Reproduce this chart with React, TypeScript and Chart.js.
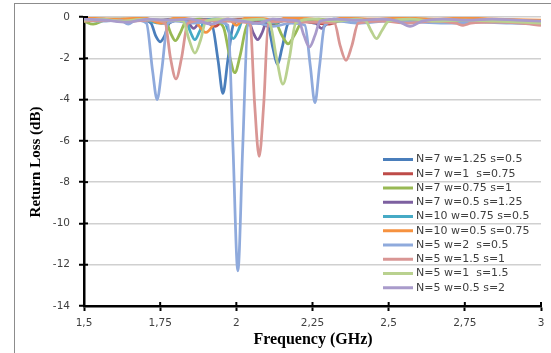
import React, { useEffect, useRef } from "react";
import { Chart, registerables } from "chart.js";
Chart.register(...registerables);

const seriesNames = [
  "N=7 w=1.25 s=0.5",
  "N=7 w=1  s=0.75",
  "N=7 w=0.75 s=1",
  "N=7 w=0.5 s=1.25",
  "N=10 w=0.75 s=0.5",
  "N=10 w=0.5 s=0.75",
  "N=5 w=2  s=0.5",
  "N=5 w=1.5 s=1",
  "N=5 w=1  s=1.5",
  "N=5 w=0.5 s=2",
];
const seriesColors = [
  "#4A7EBB", "#BE4B48", "#98B954", "#7D60A0", "#46AAC5",
  "#F69240", "#8FAADC", "#D99694", "#B9D18F", "#A99BCB",
];

const xTickValues = [1.5, 1.75, 2, 2.25, 2.5, 2.75, 3];
const xTickLabels = ["1,5", "1,75", "2", "2,25", "2,5", "2,75", "3"];
const yTickValues = [-14, -12, -10, -8, -6, -4, -2, 0];
const yTickLabels = ["-14", "-12", "-10", "-8", "-6", "-4", "-2", "0"];

// N=7 w=1.25 s=0.5
const f1 = [1.5, 1.56, 1.62, 1.68, 1.72, 1.735, 1.75, 1.765, 1.78, 1.83, 1.88, 1.92, 1.94, 1.956, 1.972, 1.99, 2.03, 2.07, 2.105, 2.12, 2.135, 2.15, 2.17, 2.2, 2.26, 2.32, 2.4, 2.5, 2.6, 2.7, 2.8, 2.9, 3.0];
const v1 = [-0.15, -0.1, -0.2, -0.1, -0.3, -0.9, -1.2, -0.9, -0.3, -0.1, -0.25, -0.4, -2.1, -3.7, -2.1, -0.4, -0.1, -0.3, -0.5, -1.5, -2.3, -1.5, -0.3, -0.1, -0.3, -0.1, -0.15, -0.1, -0.2, -0.15, -0.2, -0.25, -0.3];
// N=7 w=1 s=0.75
const f2 = [1.5, 1.6, 1.7, 1.76, 1.82, 1.9, 1.93, 1.96, 2.02, 2.08, 2.12, 2.16, 2.22, 2.3, 2.36, 2.45, 2.55, 2.65, 2.75, 2.85, 3.0];
const v2 = [-0.1, -0.15, -0.1, -0.3, -0.1, -0.2, -0.45, -0.15, -0.1, -0.2, -0.4, -0.1, -0.2, -0.35, -0.1, -0.15, -0.1, -0.2, -0.15, -0.2, -0.25];
// N=7 w=0.75 s=1
const f3 = [1.5, 1.53, 1.57, 1.63, 1.7, 1.767, 1.785, 1.8, 1.815, 1.835, 1.88, 1.93, 1.958, 1.978, 1.995, 2.012, 2.035, 2.08, 2.13, 2.15, 2.17, 2.19, 2.215, 2.27, 2.33, 2.4, 2.5, 2.6, 2.7, 2.8, 2.9, 3.0];
const v3 = [-0.2, -0.35, -0.15, -0.1, -0.15, -0.2, -0.8, -1.15, -0.8, -0.2, -0.1, -0.2, -0.5, -1.9, -2.7, -1.9, -0.4, -0.1, -0.3, -0.9, -1.3, -0.9, -0.25, -0.1, -0.2, -0.1, -0.15, -0.1, -0.2, -0.15, -0.2, -0.25];
// N=7 w=0.5 s=1.25
const f4 = [1.5, 1.58, 1.65, 1.72, 1.79, 1.835, 1.86, 1.885, 1.94, 2.0, 2.04, 2.055, 2.07, 2.085, 2.1, 2.16, 2.22, 2.255, 2.28, 2.305, 2.36, 2.45, 2.55, 2.65, 2.75, 2.85, 3.0];
const v4 = [-0.1, -0.15, -0.1, -0.2, -0.1, -0.15, -0.55, -0.15, -0.1, -0.15, -0.2, -0.75, -1.1, -0.75, -0.2, -0.1, -0.15, -0.2, -0.55, -0.2, -0.1, -0.15, -0.1, -0.15, -0.1, -0.15, -0.2];
// N=10 w=0.75 s=0.5
const f5 = [1.5, 1.6, 1.7, 1.75, 1.8, 1.835, 1.85, 1.864, 1.878, 1.895, 1.93, 1.96, 1.975, 1.99, 2.005, 2.02, 2.07, 2.12, 2.18, 2.28, 2.38, 2.5, 2.62, 2.75, 2.9, 3.0];
const v5 = [-0.15, -0.1, -0.15, -0.3, -0.1, -0.2, -0.75, -1.1, -0.75, -0.2, -0.1, -0.2, -0.7, -1.05, -0.7, -0.2, -0.1, -0.3, -0.1, -0.2, -0.1, -0.15, -0.1, -0.2, -0.15, -0.25];
// N=10 w=0.5 s=0.75
const f6 = [1.5, 1.6, 1.7, 1.75, 1.8, 1.86, 1.9, 1.94, 1.975, 2.0, 2.03, 2.1, 2.13, 2.16, 2.25, 2.3, 2.35, 2.45, 2.55, 2.65, 2.75, 2.85, 3.0];
const v6 = [-0.05, -0.1, -0.05, -0.3, -0.05, -0.15, -0.75, -0.15, -0.1, -0.4, -0.05, -0.1, -0.25, -0.05, -0.1, -0.2, -0.05, -0.1, -0.05, -0.1, -0.05, -0.1, -0.15];
// N=5 w=2 s=0.5
const f7 = [1.5, 1.56, 1.62, 1.645, 1.67, 1.705, 1.725, 1.74, 1.755, 1.775, 1.8, 1.86, 1.92, 1.973, 1.989, 2.005, 2.021, 2.038, 2.07, 2.12, 2.18, 2.225, 2.243, 2.258, 2.273, 2.29, 2.33, 2.4, 2.5, 2.6, 2.7, 2.8, 2.9, 3.0];
const v7 = [-0.15, -0.2, -0.15, -0.35, -0.15, -0.3, -2.6, -4.0, -2.6, -0.3, -0.2, -0.3, -0.2, -0.4, -6.3, -12.3, -6.3, -0.4, -0.3, -0.45, -0.3, -0.4, -2.4, -4.15, -2.4, -0.4, -0.2, -0.3, -0.2, -0.25, -0.3, -0.25, -0.3, -0.35];
// N=5 w=1.5 s=1
const f8 = [1.5, 1.58, 1.65, 1.72, 1.766, 1.784, 1.802, 1.82, 1.841, 1.9, 1.96, 2.045, 2.06, 2.075, 2.09, 2.105, 2.16, 2.22, 2.322, 2.341, 2.36, 2.379, 2.4, 2.48, 2.56, 2.65, 2.72, 2.744, 2.77, 2.85, 2.93, 3.0];
const v8 = [-0.2, -0.15, -0.2, -0.15, -0.3, -2.0, -3.0, -2.0, -0.3, -0.15, -0.2, -0.3, -4.2, -6.75, -4.2, -0.3, -0.2, -0.25, -0.3, -1.4, -2.1, -1.4, -0.3, -0.2, -0.3, -0.2, -0.3, -0.4, -0.3, -0.25, -0.3, -0.4];
// N=5 w=1 s=1.5
const f9 = [1.5, 1.56, 1.62, 1.7, 1.78, 1.825, 1.845, 1.864, 1.883, 1.9, 1.95, 2.02, 2.08, 2.11, 2.132, 2.153, 2.174, 2.195, 2.25, 2.33, 2.39, 2.425, 2.442, 2.46, 2.478, 2.5, 2.57, 2.65, 2.75, 2.85, 3.0];
const v9 = [-0.15, -0.1, -0.2, -0.1, -0.15, -0.2, -1.1, -1.75, -1.1, -0.2, -0.1, -0.15, -0.1, -0.3, -2.0, -3.25, -2.0, -0.3, -0.1, -0.2, -0.1, -0.2, -0.65, -1.05, -0.65, -0.2, -0.1, -0.2, -0.15, -0.2, -0.3];
// N=5 w=0.5 s=2
const f10 = [1.5, 1.57, 1.64, 1.71, 1.78, 1.85, 1.92, 1.97, 2.02, 2.07, 2.12, 2.17, 2.205, 2.222, 2.24, 2.258, 2.275, 2.33, 2.4, 2.48, 2.53, 2.57, 2.61, 2.68, 2.76, 2.84, 2.92, 3.0];
const v10 = [-0.1, -0.15, -0.25, -0.1, -0.15, -0.1, -0.35, -0.1, -0.2, -0.3, -0.1, -0.15, -0.2, -0.9, -1.45, -0.9, -0.2, -0.1, -0.15, -0.1, -0.2, -0.45, -0.2, -0.1, -0.15, -0.1, -0.15, -0.2];

const freqs = [f1, f2, f3, f4, f5, f6, f7, f8, f9, f10];
const values = [v1, v2, v3, v4, v5, v6, v7, v8, v9, v10];

const decorPlugin = {
  id: "decor",
  afterDraw(chart: any) {
    const { ctx, chartArea: ca, scales } = chart;
    ctx.save();
    ctx.strokeStyle = "#000";
    ctx.lineWidth = 2;
    yTickValues.forEach((v) => {
      const y = scales.y.getPixelForValue(v);
      ctx.beginPath();
      ctx.moveTo(ca.left, y);
      ctx.lineTo(ca.left + 4, y);
      ctx.stroke();
    });
    xTickValues.forEach((v) => {
      const x = scales.x.getPixelForValue(v);
      ctx.beginPath();
      ctx.moveTo(x, ca.bottom);
      ctx.lineTo(x, ca.bottom - 4);
      ctx.stroke();
    });
    ctx.fillStyle = "#000";
    ctx.textAlign = "center";
    ctx.textBaseline = "middle";
    ctx.font = 'bold 16px "Liberation Serif"';
    ctx.fillText("Frequency (GHz)", 313, 340);
    ctx.save();
    ctx.translate(36, 162);
    ctx.rotate(-Math.PI / 2);
    ctx.font = 'bold 15px "Liberation Serif"';
    ctx.fillText("Return Loss (dB)", 0, 0);
    ctx.restore();
    ctx.font = '11px "DejaVu Sans"';
    ctx.textAlign = "left";
    ctx.textBaseline = "middle";
    seriesNames.forEach((name, i) => {
      const y = 159.5 + i * 14.25;
      ctx.strokeStyle = seriesColors[i];
      ctx.lineWidth = 3;
      ctx.beginPath();
      ctx.moveTo(383, y);
      ctx.lineTo(413, y);
      ctx.stroke();
      ctx.fillStyle = "#404040";
      ctx.fillText(name, 416, y);
    });
    ctx.restore();
  },
};

export default function App() {
  const ref = useRef<HTMLCanvasElement>(null);
  useEffect(() => {
    if (!ref.current) return;
    const chart = new Chart(ref.current, {
      type: "line",
      data: {
        datasets: seriesNames.map((name, i) => ({
          label: name,
          data: freqs[i].map((x, j) => ({ x, y: values[i][j] })),
          borderColor: seriesColors[i],
          backgroundColor: seriesColors[i],
          borderWidth: 2.75,
          pointRadius: 0,
          fill: false,
          cubicInterpolationMode: "monotone" as const,
          order: -i,
        })),
      },
      options: {
        animation: false,
        responsive: false,
        devicePixelRatio: 1,
        layout: { padding: { left: 0, top: 17, right: 10, bottom: 0 } },
        plugins: { legend: { display: false }, tooltip: { enabled: false } },
        scales: {
          x: {
            type: "linear",
            min: 1.5,
            max: 3,
            afterFit: (s: any) => { s.height = 47; },
            afterBuildTicks: (s: any) => { s.ticks = xTickValues.map((v) => ({ value: v })); },
            ticks: {
              callback: (v: any) => xTickLabels[xTickValues.indexOf(Number(v))] ?? "",
              color: "#404040",
              font: { family: "DejaVu Sans", size: 10.5 },
              padding: 6,
              maxRotation: 0,
              autoSkip: false,
            },
            grid: { drawOnChartArea: false, drawTicks: true, tickLength: 5, tickColor: "#000", tickWidth: 2 },
            border: { display: true, color: "#000", width: 2.5 },
          },
          y: {
            type: "linear",
            min: -14,
            max: 0,
            afterFit: (s: any) => { s.width = 84; },
            afterBuildTicks: (s: any) => { s.ticks = yTickValues.map((v) => ({ value: v })); },
            ticks: {
              callback: (v: any) => yTickLabels[yTickValues.indexOf(Number(v))] ?? "",
              color: "#404040",
              font: { family: "DejaVu Sans", size: 10.5 },
              padding: 9,
              autoSkip: false,
            },
            grid: { color: "#d0d0d0", lineWidth: 1.5, drawTicks: true, tickLength: 5, tickColor: "#000", tickWidth: 2 },
            border: { display: true, color: "#000", width: 2.5 },
          },
        },
      },
      plugins: [decorPlugin],
    });
    return () => chart.destroy();
  }, []);
  return (
    <div style={{ position: "fixed", left: 0, top: 0, width: 551, height: 353, overflow: "hidden", background: "#fff" }}>
      <div style={{ position: "absolute", left: 14, top: 3, width: 700, height: 500, border: "1px solid #8c8c8c" }} />
      <canvas ref={ref} width={551} height={353} style={{ position: "absolute", left: 0, top: 0, display: "block" }} />
    </div>
  );
}
